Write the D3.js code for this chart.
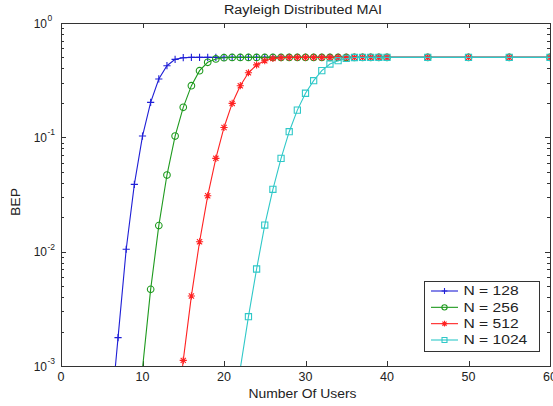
<!DOCTYPE html>
<html>
<head>
<meta charset="utf-8">
<script src="https://cdn.jsdelivr.net/npm/d3@7"></script>
<style>
  html, body { margin: 0; padding: 0; background: #fff; }
  svg { display: block; }
  text { font-family: "Liberation Sans", Arial, Helvetica, sans-serif; fill: #222; }
</style>
</head>
<body>
<svg id="chart" width="553" height="406"></svg>
<script>
// ---------------- DATA ----------------
const titleText = "Rayleigh Distributed MAI";
const xLabelText = "Number Of Users";
const yLabelText = "BEP";
const xTicks = [0, 10, 20, 30, 40, 50, 60];
const yDecades = [-3, -2, -1, 0];

const usersN128 = [6,7,8,9,10,11,12,13,14,15,16,17,18,19,20,21,22,23,24,25,26,27,28,29,30,31,32,33,34,35,36,37,38,39,40,45,50,55,60];
const bepN128   = [3.0e-4,1.77e-3,1.05e-2,3.88e-2,0.1026,0.202,0.324,0.423,0.481,0.497,0.5,0.5,0.5,0.5,0.5,0.5,0.5,0.5,0.5,0.5,0.5,0.5,0.5,0.5,0.5,0.5,0.5,0.5,0.5,0.5,0.5,0.5,0.5,0.5,0.5,0.5,0.5,0.5,0.5];

const usersN256 = [9,10,11,12,13,14,15,16,17,18,19,20,21,22,23,24,25,26,27,28,29,30,31,32,33,34,35,36,37,38,39,40,45,50,55,60];
const bepN256   = [2.0e-4,9.5e-4,4.68e-3,1.69e-2,4.68e-2,0.1026,0.183,0.283,0.383,0.453,0.485,0.497,0.5,0.5,0.5,0.5,0.5,0.5,0.5,0.5,0.5,0.5,0.5,0.5,0.5,0.5,0.5,0.5,0.5,0.5,0.5,0.5,0.5,0.5,0.5,0.5];

const usersN512 = [14,15,16,17,18,19,20,21,22,23,24,25,26,27,28,29,30,31,32,33,34,35,36,37,38,39,40,45,50,55,60];
const bepN512   = [2.5e-4,1.12e-3,4.1e-3,1.22e-2,3.08e-2,6.55e-2,0.122,0.198,0.283,0.367,0.43,0.468,0.49,0.498,0.5,0.5,0.5,0.5,0.5,0.5,0.5,0.5,0.5,0.5,0.5,0.5,0.5,0.5,0.5,0.5,0.5];

const usersN1024 = [21,22,23,24,25,26,27,28,29,30,31,32,33,34,35,36,37,38,39,40,45,50,55,60];
const bepN1024   = [2.0e-4,9.5e-4,2.7e-3,7.05e-3,0.0171,0.0351,0.0655,0.112,0.173,0.243,0.313,0.383,0.438,0.468,0.49,0.499,0.5,0.5,0.5,0.5,0.5,0.5,0.5,0.5];

const seriesNames  = ["N = 128", "N = 256", "N = 512", "N = 1024"];
const seriesColors = ["#1f1fd6", "#1e9a1e", "#ff2222", "#2fc8c8"];
const seriesMarkers = ["plus", "circle", "star", "square"];

// ---------------- LAYOUT ----------------
const svg = d3.select("#chart");
const L = 61, R = 550, T = 23, B = 366;
const x = d3.scaleLinear().domain([0, 60]).range([L, R]);
const y = d3.scaleLog().domain([1e-3, 1]).range([B, T]);
const axisColor = "#333";

const series = [
  { name: seriesNames[0], color: seriesColors[0], marker: seriesMarkers[0], xs: usersN128, ys: bepN128 },
  { name: seriesNames[1], color: seriesColors[1], marker: seriesMarkers[1], xs: usersN256, ys: bepN256 },
  { name: seriesNames[2], color: seriesColors[2], marker: seriesMarkers[2], xs: usersN512, ys: bepN512 },
  { name: seriesNames[3], color: seriesColors[3], marker: seriesMarkers[3], xs: usersN1024, ys: bepN1024 }
];

svg.append("defs").append("clipPath").attr("id", "clip")
  .append("rect").attr("x", L).attr("y", T).attr("width", R - L).attr("height", B - T);

// frame background
svg.append("rect").attr("x", L).attr("y", T).attr("width", R - L).attr("height", B - T).attr("fill", "#fff");

// axes via d3 axis generators (ticks inward)
const xAxisBottom = d3.axisBottom(x).tickValues(xTicks).tickSize(-5).tickFormat("");
const xAxisTop = d3.axisTop(x).tickValues(xTicks).tickSize(-5).tickFormat("");
const gxB = svg.append("g").attr("transform", `translate(0,${B})`).call(xAxisBottom);
const gxT = svg.append("g").attr("transform", `translate(0,${T})`).call(xAxisTop);

const minorVals = [];
yDecades.slice(0, -1).forEach(d => { for (let k = 2; k <= 9; k++) minorVals.push(k * Math.pow(10, d)); });
const majorVals = yDecades.map(d => Math.pow(10, d));

const yAxL = d3.axisLeft(y).tickValues(majorVals).tickSize(-5).tickFormat("");
const yAxLm = d3.axisLeft(y).tickValues(minorVals).tickSize(-3).tickFormat("");
const yAxR = d3.axisRight(y).tickValues(majorVals).tickSize(-5).tickFormat("");
const yAxRm = d3.axisRight(y).tickValues(minorVals).tickSize(-3).tickFormat("");
const gyl = svg.append("g").attr("transform", `translate(${L},0)`).call(yAxL);
const gylm = svg.append("g").attr("transform", `translate(${L},0)`).call(yAxLm);
const gyr = svg.append("g").attr("transform", `translate(${R},0)`).call(yAxR);
const gyrm = svg.append("g").attr("transform", `translate(${R},0)`).call(yAxRm);
[gxB, gxT, gyl, gylm, gyr, gyrm].forEach(g => {
  g.selectAll(".domain").remove();
  g.selectAll("line").attr("stroke", axisColor).attr("shape-rendering", "crispEdges");
});

// x tick labels
svg.append("g").selectAll("text").data(xTicks).join("text")
  .attr("x", d => x(d)).attr("y", B + 15)
  .attr("text-anchor", "middle").attr("font-size", 12.5)
  .text(d => d);

// y tick labels 10^n
const yl = svg.append("g").selectAll("g").data(yDecades).join("g");
yl.append("text").attr("x", 47).attr("y", d => y(Math.pow(10, d)) + 4.5)
  .attr("text-anchor", "end").attr("font-size", 12).text("10");
yl.append("text").attr("x", 47.5).attr("y", d => y(Math.pow(10, d)) - 2)
  .attr("text-anchor", "start").attr("font-size", 8.5).text(d => String(d));

// data lines
const line = d3.line().x(d => x(d[0])).y(d => y(d[1]));
const plotG = svg.append("g").attr("clip-path", "url(#clip)");

function markerPath(type, s) {
  if (type === "plus") return `M${-s},0H${s}M0,${-s}V${s}`;
  if (type === "star") { const t = s * 0.72; return `M${-s},0H${s}M0,${-s}V${s}M${-t},${-t}L${t},${t}M${-t},${t}L${t},${-t}`; }
  if (type === "square") return `M${-s},${-s}H${s}V${s}H${-s}Z`;
  return d3.arc()({ innerRadius: 0, outerRadius: s, startAngle: 0, endAngle: 2 * Math.PI });
}
const msize = { plus: 3.6, circle: 3.3, star: 3.6, square: 3.1 };

series.forEach(s => {
  const pts = s.xs.map((v, i) => [v, s.ys[i]]);
  const g = plotG.append("g");
  g.append("path").attr("d", line(pts)).attr("fill", "none")
    .attr("stroke", s.color).attr("stroke-width", 1.1);
  g.selectAll("path.m").data(pts.filter(p => p[1] >= 1e-3)).join("path")
    .attr("class", "m")
    .attr("transform", p => `translate(${x(p[0])},${y(p[1])})`)
    .attr("d", markerPath(s.marker, msize[s.marker]))
    .attr("fill", "none").attr("stroke", s.color).attr("stroke-width", 1.1);
});

// frame
svg.append("rect").attr("x", L).attr("y", T).attr("width", R - L).attr("height", B - T)
  .attr("fill", "none").attr("stroke", axisColor).attr("stroke-width", 1)
  .attr("shape-rendering", "crispEdges");

// title and labels
function fitText(sel, w) { sel.attr("textLength", w).attr("lengthAdjust", "spacingAndGlyphs"); }
const tt = svg.append("text").attr("x", 303).attr("y", 13.5).attr("text-anchor", "middle")
  .attr("font-size", 12).text(titleText);
fitText(tt, 158);
const xl = svg.append("text").attr("x", 302.5).attr("y", 397.5).attr("text-anchor", "middle")
  .attr("font-size", 12).text(xLabelText);
fitText(xl, 108);
const ylab = svg.append("text").attr("transform", "translate(19.5,202) rotate(-90)")
  .attr("text-anchor", "middle").attr("font-size", 12).text(yLabelText);
fitText(ylab, 28);

// legend
const lg = svg.append("g");
lg.append("rect").attr("x", 424).attr("y", 281).attr("width", 115).attr("height", 70)
  .attr("fill", "#fff").attr("stroke", axisColor).attr("shape-rendering", "crispEdges");
const legendY = d3.scalePoint().domain(seriesNames).range([291, 340]);
series.forEach(s => {
  const yy = legendY(s.name);
  lg.append("line").attr("x1", 431).attr("x2", 458).attr("y1", yy).attr("y2", yy)
    .attr("stroke", s.color).attr("stroke-width", 1.1);
  lg.append("path").attr("transform", `translate(444.5,${yy})`)
    .attr("d", markerPath(s.marker, msize[s.marker] * 0.8))
    .attr("fill", "none").attr("stroke", s.color).attr("stroke-width", 1.1);
  const t = lg.append("text").attr("x", 463.5).attr("y", yy + 4.3).attr("font-size", 12).text(s.name);
  const w = t.node().getComputedTextLength();
  fitText(t, w * 1.3);
});
</script>
</body>
</html>
